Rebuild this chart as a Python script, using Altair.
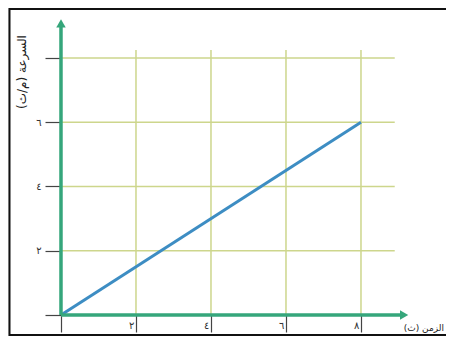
import altair as alt
import pandas as pd

# ---- data ----
time_s = [0, 8]
speed_ms = [0, 6]
x_tick_values = [0, 2, 4, 6, 8]
y_tick_values = [0, 2, 4, 6, 8]
x_tick_labels = ["", "٢", "٤", "٦", "٨"]
y_tick_labels = ["", "٢", "٤", "٦", ""]
grid_x = [2, 4, 6, 8]
grid_y = [2, 4, 6, 8]
x_title = "الزمن (ث)"
y_title = "السرعة (م/ث)"

W, H = 438, 328
FONT = "DejaVu Sans"
GREEN = "#35a67b"
GRID = "#cdd68c"
BLUE = "#3d8dc3"

xs = alt.Scale(domain=[-1.413, 10.267], nice=False, zero=False)
ys = alt.Scale(domain=[-0.654, 9.556], nice=False, zero=False)


def label_expr(values, labels):
    parts = " : ".join(f"datum.value == {v} ? '{l}'" for v, l in zip(values, labels))
    return parts + " : ''"


x_axis = alt.Axis(values=x_tick_values, labelExpr=label_expr(x_tick_values, x_tick_labels),
                  domain=False, grid=False, tickSize=17, tickColor="#444", tickWidth=1.2,
                  offset=-21, labelAlign="right", labelBaseline="middle", labelPadding=-7,
                  labelOffset=-2, labelFont=FONT, labelFontSize=10, labelColor="#333",
                  labelFlush=False, labelOverlap=False, title=None)
y_axis = alt.Axis(values=y_tick_values, labelExpr=label_expr(y_tick_values, y_tick_labels),
                  domain=False, grid=False, tickSize=16, tickColor="#444", tickWidth=1.2,
                  offset=-53, labelAlign="right", labelBaseline="middle", labelPadding=4,
                  labelFont=FONT, labelFontSize=10, labelColor="#333",
                  labelFlush=False, labelOverlap=False, title=None)


def X(field):
    return alt.X(field, scale=xs, axis=x_axis)


def Y(field):
    return alt.Y(field, scale=ys, axis=y_axis)


vgrid = pd.DataFrame({"x": grid_x, "y0": [0] * 4, "y1": [8.25] * 4})
hgrid = pd.DataFrame({"y": grid_y, "x0": [0] * 4, "x1": [8.9] * 4})

vgrid_layer = alt.Chart(vgrid).mark_rule(color=GRID, strokeWidth=1.5).encode(
    x=X("x:Q"), y=Y("y0:Q"), y2="y1:Q",
)
hgrid_layer = alt.Chart(hgrid).mark_rule(color=GRID, strokeWidth=1.5).encode(
    y=Y("y:Q"), x=X("x0:Q"), x2="x1:Q",
)

axes_df = pd.DataFrame({"x0": [0, 0], "x1": [0, 9.05], "y0": [0, 0], "y1": [9.0, 0]})
axes_layer = alt.Chart(axes_df).mark_rule(color=GREEN, strokeWidth=3.5).encode(
    x=X("x0:Q"), x2="x1:Q", y=Y("y0:Q"), y2="y1:Q",
)

arrow_up = alt.Chart(pd.DataFrame({"x": [0], "y": [9.08]})).mark_point(
    shape="triangle-up", filled=True, color=GREEN, size=90, opacity=1
).encode(x=X("x:Q"), y=Y("y:Q"))
arrow_right = alt.Chart(pd.DataFrame({"x": [9.15], "y": [0]})).mark_point(
    shape="triangle-right", filled=True, color=GREEN, size=90, opacity=1
).encode(x=X("x:Q"), y=Y("y:Q"))

line_layer = alt.Chart(pd.DataFrame({"t": time_s, "v": speed_ms})).mark_line(
    color=BLUE, strokeWidth=3
).encode(x=X("t:Q"), y=Y("v:Q"))

ytitle_layer = alt.Chart(pd.DataFrame({"t": [y_title]})).mark_text(
    angle=270, font=FONT, fontSize=12, color="#222", align="center", baseline="middle"
).encode(x=alt.value(14), y=alt.value(64), text="t:N")
xtitle_layer = alt.Chart(pd.DataFrame({"t": [x_title]})).mark_text(
    font=FONT, fontSize=9, color="#222", align="right", baseline="middle"
).encode(x=alt.value(436), y=alt.value(320), text="t:N")

border = alt.Chart(pd.DataFrame({"a": [0]})).mark_rect(
    fill=None, stroke="#111", strokeWidth=2
).encode(x=alt.value(1.5), x2=alt.value(470), y=alt.value(1), y2=alt.value(327))

chart = alt.layer(
    vgrid_layer, hgrid_layer, line_layer, axes_layer, arrow_up, arrow_right,
    ytitle_layer, xtitle_layer, border
).properties(
    width=W, height=H, autosize=alt.AutoSizeParams(type="none"), padding=0
).configure_view(stroke=None).configure(background="white")

chart.save("out.html", embed_options={"renderer": "svg", "actions": False})
